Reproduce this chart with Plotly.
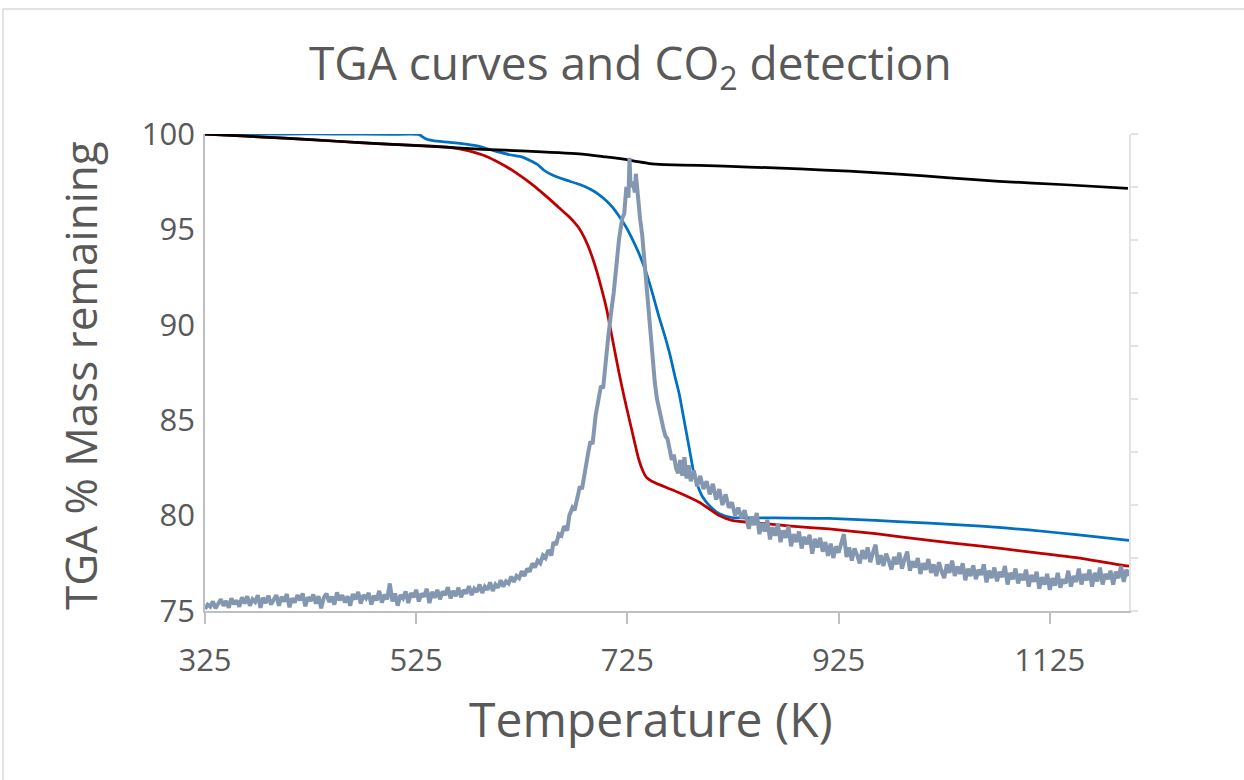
import plotly.graph_objects as go

# ---------------- data ----------------
black_T = [325, 360, 400, 450, 493, 540, 588, 630, 682, 705, 720, 735, 746, 760, 793, 840, 888, 935, 982, 1030, 1077, 1140, 1199]
black_M = [100.0, 99.9, 99.78, 99.62, 99.48, 99.35, 99.2, 99.1, 98.95, 98.8, 98.7, 98.55, 98.45, 98.4, 98.35, 98.27, 98.17, 98.05, 97.9, 97.7, 97.52, 97.34, 97.15]

red_T = [325, 400, 450, 493, 525, 557, 575, 588, 600, 610, 620, 635, 651, 660, 670, 675, 680, 684, 688, 692, 696, 700, 705, 711, 717, 722, 727, 732, 736, 740, 743, 748, 752, 763, 774, 793, 812, 824, 850, 880, 916, 960, 1011, 1060, 1105, 1150, 1193, 1200]
red_M = [100.0, 99.78, 99.62, 99.48, 99.4, 99.3, 99.12, 98.9, 98.6, 98.3, 97.95, 97.35, 96.6, 96.15, 95.65, 95.35, 95.0, 94.6, 94.1, 93.5, 92.8, 92.0, 90.9, 89.2, 87.5, 86.2, 85.0, 83.8, 82.9, 82.3, 82.0, 81.8, 81.7, 81.45, 81.2, 80.7, 80.0, 79.75, 79.6, 79.45, 79.3, 79.05, 78.7, 78.4, 78.1, 77.8, 77.4, 77.35]

blue_T = [325, 400, 450, 500, 528, 531, 535, 541, 560, 580, 588, 600, 615, 625, 640, 646, 654, 665, 680, 690, 698, 705, 711, 717, 724, 730, 737, 743, 749, 755, 760, 765, 770, 774, 780, 784, 788, 792, 796, 803, 812, 824, 850, 880, 916, 960, 1011, 1060, 1105, 1150, 1200]
blue_M = [100.0, 100.0, 100.0, 99.98, 99.97, 99.85, 99.72, 99.65, 99.55, 99.4, 99.3, 99.1, 98.9, 98.8, 98.4, 98.1, 97.85, 97.62, 97.35, 97.1, 96.82, 96.5, 96.15, 95.7, 95.1, 94.45, 93.6, 92.7, 91.6, 90.4, 89.5, 88.5, 87.3, 86.4, 84.6, 83.4, 82.2, 81.5, 81.0, 80.5, 80.1, 79.9, 79.88, 79.87, 79.85, 79.75, 79.6, 79.45, 79.25, 79.0, 78.7]

co2_T = [325, 327.5, 330, 332.5, 335, 337.5, 340, 342.5, 345, 347.5, 350, 352.5, 355, 357.5, 360, 362.5, 365, 367.5, 370, 372.5,
         375, 377.5, 380, 382.5, 385, 387.5, 390, 392.5, 395, 397.5, 400, 402.5, 405, 407.5, 410, 412.5, 415, 417.5, 420, 422.5,
         425, 427.5, 430, 432.5, 435, 437.5, 440, 442.5, 445, 447.5, 450, 452.5, 455, 457.5, 460, 462.5, 465, 467.5, 470, 472.5,
         475, 477.5, 480, 482.5, 485, 487.5, 490, 492.5, 495, 497.5, 500, 502.5, 505, 507.5, 510, 512.5, 515, 517.5, 520, 522.5,
         525, 527.5, 530, 532.5, 535, 537.5, 540, 542.5, 545, 547.5, 550, 552.5, 555, 557.5, 560, 562.5, 565, 567.5, 570, 572.5,
         575, 577.5, 580, 582.5, 585, 587.5, 590, 592.5, 595, 597.5, 600, 602.5, 605, 607.5, 610, 612.5, 615, 617.5, 620, 622.5,
         625, 627.5, 630, 632.5, 635, 637.5, 640, 642.5, 645, 647.5, 650,
         653, 655, 657.5, 660, 662.5, 665, 668, 670, 673, 675, 678, 680, 682, 685, 688, 690,
         692, 695, 698, 700, 702, 705, 707, 710, 712, 715, 717, 720, 722, 724, 726, 727, 728, 730, 732, 733,
         735, 737, 739, 741, 743, 745, 747, 749, 751, 753, 755, 757, 759, 761, 763, 765, 767, 769, 771, 773,
         775, 777, 779, 781, 783, 785, 788, 791, 794, 797, 800, 803, 806, 809, 812, 815, 818, 821, 824, 827,
         830, 833, 836,
         840, 842.5, 845, 847.5, 850, 852.5, 855, 857.5, 860, 862.5, 865, 867.5, 870, 872.5, 875, 877.5, 880, 882.5, 885, 887.5,
         890, 892.5, 895, 897.5, 900, 902.5, 905, 907.5, 910, 912.5, 915, 917.5, 920, 922.5, 925, 927.5, 930, 932.5, 935, 937.5,
         940, 942.5, 945, 947.5, 950, 952.5, 955, 957.5, 960, 962.5, 965, 967.5, 970, 972.5, 975, 977.5, 980, 982.5, 985, 987.5,
         990, 992.5, 995, 997.5, 1000, 1002.5, 1005, 1007.5, 1010, 1012.5, 1015, 1017.5, 1020, 1022.5, 1025, 1027.5, 1030, 1032.5, 1035, 1037.5,
         1040, 1042.5, 1045, 1047.5, 1050, 1052.5, 1055, 1057.5, 1060, 1062.5, 1065, 1067.5, 1070, 1072.5, 1075, 1077.5, 1080, 1082.5, 1085, 1087.5,
         1090, 1092.5, 1095, 1097.5, 1100, 1102.5, 1105, 1107.5, 1110, 1112.5, 1115, 1117.5, 1120, 1122.5, 1125, 1127.5, 1130, 1132.5, 1135, 1137.5,
         1140, 1142.5, 1145, 1147.5, 1150, 1152.5, 1155, 1157.5, 1160, 1162.5, 1165, 1167.5, 1170, 1172.5, 1175, 1177.5, 1180, 1182.5, 1185, 1187.5,
         1190, 1192.5, 1195, 1197.5, 1200]
co2_S = [0.04, 0.12, 0.08, 0.18, 0.05, 0.15, 0.22, 0.10, 0.19, 0.06, 0.24, 0.13, 0.20, 0.08, 0.26, 0.14, 0.28, 0.10, 0.22, 0.17,
         0.30, 0.06, 0.25, 0.15, 0.29, 0.12, 0.23, 0.30, 0.10, 0.27, 0.18, 0.32, 0.07, 0.24, 0.16, 0.30, 0.20, 0.33, 0.09, 0.26,
         0.19, 0.31, 0.14, 0.28, 0.05, 0.25, 0.33, 0.17, 0.27, 0.12, 0.35, 0.20, 0.30, 0.16, 0.28, 0.10, 0.32, 0.22, 0.36, 0.14,
         0.30, 0.24, 0.34, 0.12, 0.29, 0.20, 0.38, 0.16, 0.31, 0.22, 0.52, 0.18, 0.33, 0.10, 0.30, 0.24, 0.37, 0.15, 0.34, 0.26,
         0.40, 0.18, 0.33, 0.27, 0.42, 0.15, 0.36, 0.25, 0.40, 0.22, 0.37, 0.30, 0.45, 0.24, 0.38, 0.28, 0.44, 0.26, 0.40, 0.33,
         0.47, 0.30, 0.42, 0.36, 0.50, 0.34, 0.46, 0.40, 0.54, 0.38, 0.50, 0.44, 0.58, 0.46, 0.56, 0.52, 0.65, 0.55, 0.66, 0.62,
         0.75, 0.66, 0.80, 0.74, 0.90, 0.82, 0.95, 0.90, 1.05, 1.00, 1.15,
         1.05, 1.30, 1.25, 1.45, 1.42, 1.60, 1.52, 1.80, 1.95, 1.90, 2.20, 2.35, 2.30, 2.70, 3.00, 3.20,
         3.15, 3.70, 4.00, 4.25, 4.20, 4.90, 5.20, 5.70, 6.00, 6.60, 7.00, 7.40, 7.50, 8.00, 7.80, 8.55, 8.00, 8.10, 7.90, 8.25,
         7.70, 7.40, 7.10, 6.60, 6.20, 5.60, 5.10, 4.60, 4.30, 4.00, 3.80, 3.60, 3.45, 3.30, 3.25, 3.05, 2.85, 2.95, 2.70, 2.60,
         2.85, 2.55, 2.90, 2.50, 2.75, 2.45, 2.65, 2.35, 2.55, 2.30, 2.45, 2.20, 2.40, 2.10, 2.30, 2.00, 2.20, 1.95, 2.05, 1.80,
         1.95, 1.75, 1.90,
         1.55, 1.78, 1.62, 1.85, 1.45, 1.66, 1.50, 1.72, 1.35, 1.58, 1.42, 1.65, 1.30, 1.52, 1.38, 1.60, 1.22, 1.45, 1.30, 1.50,
         1.18, 1.40, 1.26, 1.44, 1.08, 1.36, 1.20, 1.38, 1.12, 1.30, 1.04, 1.27, 1.00, 1.22, 1.10, 1.30, 1.45, 1.02, 1.20, 0.95,
         1.18, 1.06, 0.90, 1.15, 0.98, 1.20, 0.92, 1.10, 1.25, 0.88, 1.05, 0.85, 1.08, 0.95, 0.78, 1.02, 0.88, 1.10, 0.80, 0.98,
         1.12, 0.76, 0.94, 0.82, 1.00, 0.70, 0.90, 0.78, 0.98, 0.72, 0.88, 0.66, 0.92, 0.75, 0.62, 0.88, 0.72, 0.95, 0.66, 0.84,
         0.70, 0.90, 0.58, 0.80, 0.66, 0.86, 0.60, 0.78, 0.68, 0.88, 0.54, 0.76, 0.62, 0.82, 0.56, 0.74, 0.64, 0.85, 0.50, 0.72,
         0.60, 0.80, 0.52, 0.70, 0.58, 0.78, 0.46, 0.68, 0.55, 0.74, 0.42, 0.64, 0.50, 0.70, 0.40, 0.62, 0.48, 0.72, 0.44, 0.60,
         0.52, 0.76, 0.46, 0.66, 0.55, 0.80, 0.50, 0.70, 0.58, 0.78, 0.46, 0.72, 0.56, 0.82, 0.50, 0.70, 0.60, 0.76, 0.50, 0.74,
         0.62, 0.85, 0.55, 0.78, 0.66]

x_ticks = [325, 525, 725, 925, 1125]
y_ticks = [75, 80, 85, 90, 95, 100]

# ---------------- figure ----------------
FONT = "Open Sans"
TXT = "#595959"
W, H = 1244, 780
L, R, T, B = 205, 1129, 134, 611   # plot area in pixels

fig = go.Figure()
fig.add_trace(go.Scatter(x=blue_T, y=blue_M, mode="lines", line=dict(color="#0070C0", width=2.75, shape="spline", smoothing=0.6), showlegend=False))
fig.add_trace(go.Scatter(x=red_T, y=red_M, mode="lines", line=dict(color="#C00000", width=2.75, shape="spline", smoothing=0.6), showlegend=False))
fig.add_trace(go.Scatter(x=black_T, y=black_M, mode="lines", line=dict(color="#000000", width=2.75, shape="spline", smoothing=0.6), showlegend=False))
fig.add_trace(go.Scatter(x=co2_T, y=co2_S, mode="lines", yaxis="y2",
                         line=dict(color="#8497B0", width=4), showlegend=False))

def px_x(px):
    return (px - L) / (R - L)

def px_y(py):
    return (B - py) / (B - T)

fig.update_layout(
    width=W, height=H,
    margin=dict(l=L, r=W - R, t=T, b=H - B),
    paper_bgcolor="white", plot_bgcolor="white",
    font=dict(family=FONT, color=TXT),
    xaxis=dict(range=[325, 1200], tickvals=x_ticks, ticktext=[str(v) for v in x_ticks],
               showgrid=False, zeroline=False, showline=True, linecolor="#BFBFBF", linewidth=1.5,
               ticks="outside", ticklen=11, tickcolor="#BFBFBF", tickwidth=1.5,
               tickfont=dict(size=31, color=TXT, family=FONT), ticklabelstandoff=10),
    yaxis=dict(range=[75, 100], tickvals=y_ticks, showgrid=False, zeroline=False,
               showline=True, linecolor="#BFBFBF", linewidth=1.5, ticks="",
               tickfont=dict(size=31, color=TXT, family=FONT), ticklabelstandoff=2),
    yaxis2=dict(range=[0, 9], dtick=1, overlaying="y", side="right", showgrid=False, zeroline=False,
                showline=True, linecolor="#E3E3E3", linewidth=1.5, ticks="outside", ticklen=7,
                tickcolor="#E3E3E3", tickwidth=1.5, showticklabels=False),
    shapes=[
        dict(type="line", xref="paper", yref="paper", x0=px_x(3), x1=px_x(1250), y0=px_y(9), y1=px_y(9),
             line=dict(color="#D9D9D9", width=1.5)),
        dict(type="line", xref="paper", yref="paper", x0=px_x(3), x1=px_x(3), y0=px_y(9), y1=px_y(790),
             line=dict(color="#D9D9D9", width=1.5)),
    ],
    annotations=[
        dict(text="TGA curves and CO<sub>2</sub> detection", xref="paper", yref="paper",
             x=px_x(630), y=px_y(65), xanchor="center", yanchor="middle", showarrow=False,
             font=dict(size=46, color=TXT, family=FONT)),
        dict(text="TGA % Mass remaining", xref="paper", yref="paper", textangle=-90,
             x=px_x(80), y=px_y(376), xanchor="center", yanchor="middle", showarrow=False,
             font=dict(size=44, color=TXT, family=FONT)),
        dict(text="Temperature (K)", xref="paper", yref="paper",
             x=px_x(651), y=px_y(718), xanchor="center", yanchor="middle", showarrow=False,
             font=dict(size=48, color=TXT, family=FONT)),
    ],
)

fig.write_html("out.html")
